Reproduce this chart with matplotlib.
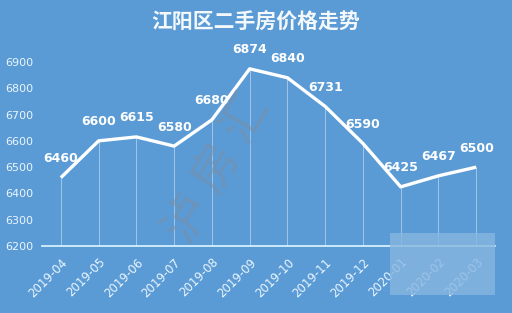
import matplotlib
matplotlib.use("Agg")
import matplotlib.pyplot as plt
from matplotlib.patches import Rectangle

months = ["2019-04", "2019-05", "2019-06", "2019-07", "2019-08", "2019-09",
          "2019-10", "2019-11", "2019-12", "2020-01", "2020-02", "2020-03"]
prices = [6460, 6600, 6615, 6580, 6680, 6874, 6840, 6731, 6590, 6425, 6467, 6500]
yticks = [6200, 6300, 6400, 6500, 6600, 6700, 6800, 6900]

plt.rcParams['font.family'] = ['DejaVu Sans']
bg = '#5b9bd5'
fg = '#eaf6ff'
cjk = ['Noto Sans CJK SC', 'DejaVu Sans']

fig = plt.figure(figsize=(5.12, 3.13), dpi=100, facecolor=bg)
ax = fig.add_axes([0.082, 0.214, 0.885, 0.588], facecolor=bg)

# watermark behind the data
fig.text(0.425, 0.46, "泸 房 汇", ha='center', va='center', fontsize=34, rotation=60,
         color='#7d8ea3', alpha=0.5, family=cjk, fontweight='light', zorder=0)

xs = list(range(len(months)))
ax.vlines(xs, 6200, prices, colors='white', linewidth=0.6, alpha=0.5)
ax.plot(xs, prices, color='white', linewidth=2.4, solid_capstyle='butt')
for x, p in zip(xs, prices):
    ax.annotate(str(p), (x, p), xytext=(0, 9), textcoords='offset points',
                ha='center', va='bottom', fontsize=9, fontweight='bold', color='white')

ax.set_xlim(-0.5, len(months) - 0.5)
ax.set_ylim(6200, 6900)
ax.set_yticks(yticks)
ax.set_xticks(xs)
ax.set_xticklabels(months, rotation=45, ha='right', rotation_mode='anchor')
ax.tick_params(axis='both', length=0, colors=fg)
ax.tick_params(axis='x', pad=7, labelsize=8.5)
ax.tick_params(axis='y', pad=6, labelsize=8)
for s in ['top', 'right', 'left']:
    ax.spines[s].set_visible(False)
ax.spines['bottom'].set_color('#dff8ff')
ax.spines['bottom'].set_linewidth(1.2)

fig.text(0.5, 0.928, "江阳区二手房价格走势", ha='center', va='center', fontsize=15,
         fontweight='bold', color='#f4f8fb', family=cjk)

# blurred patch in the lower right corner
fig.patches.append(Rectangle((0.762, 0.058), 0.205, 0.198, transform=fig.transFigure,
                             facecolor='#88b6e0', alpha=0.8, edgecolor='none'))

fig.savefig("out.png", dpi=100, facecolor=bg)
